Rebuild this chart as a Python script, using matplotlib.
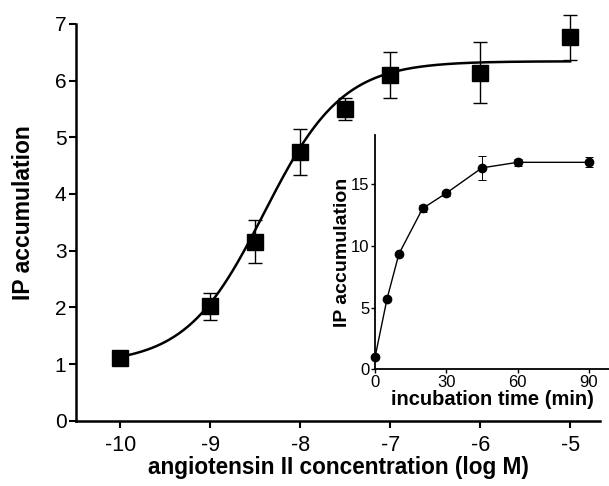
import numpy as np
import matplotlib
matplotlib.use("Agg")
import matplotlib.pyplot as plt

plt.rcParams['font.family'] = ['Liberation Sans', 'DejaVu Sans']
plt.rcParams['axes.unicode_minus'] = False

# main panel: concentration response
log_conc = [-10, -9, -8.5, -8, -7.5, -7, -6, -5]
ip_mean = [1.10, 2.02, 3.16, 4.74, 5.50, 6.10, 6.14, 6.76]
ip_err = [0.05, 0.24, 0.38, 0.41, 0.20, 0.41, 0.54, 0.39]

# sigmoid fit parameters
fit_bottom = 1.0
fit_top = 6.34
fit_logec50 = -8.4
fit_hill = 1.0

# inset: time course
time_min = [0, 5, 10, 20, 30, 45, 60, 90]
ip_time = [1.0, 5.7, 9.35, 13.05, 14.3, 16.35, 16.8, 16.8]
ip_time_err = [0.1, 0.1, 0.1, 0.3, 0.2, 0.95, 0.3, 0.4]

fig = plt.figure(figsize=(6.09, 4.86), dpi=100)
ax = fig.add_axes([0.125, 0.134, 0.86, 0.817])

x_fit = np.linspace(-10, -5, 200)
y_fit = fit_bottom + (fit_top - fit_bottom) / (1 + 10 ** ((fit_logec50 - x_fit) * fit_hill))
ax.plot(x_fit, y_fit, color='k', lw=1.8)
ax.errorbar(log_conc, ip_mean, yerr=ip_err, fmt='s', color='k', ms=11,
            ecolor='k', elinewidth=1.0, capsize=5, capthick=1.0, clip_on=False)

ax.set_xlim(-10.49, -4.67)
ax.set_ylim(0, 7)
ax.set_xticks([-10, -9, -8, -7, -6, -5])
ax.set_yticks(range(0, 8))
for side in ['top', 'right']:
    ax.spines[side].set_visible(False)
for side in ['left', 'bottom']:
    ax.spines[side].set_linewidth(1.8)
ax.tick_params(width=1.5, length=5, labelsize=15.5, pad=5)
ax.tick_params(axis='y', labelsize=15, pad=2)
ax.set_xlabel("angiotensin II concentration (log M)", fontsize=16.3, fontweight='bold')
ax.xaxis.set_label_coords(0.5, -0.088)
ax.set_ylabel("IP accumulation", fontsize=16.5, fontweight='bold')
ax.yaxis.set_label_coords(-0.078, 0.525)

# inset
ins = fig.add_axes([0.616, 0.2407, 0.384, 0.481])
ins.errorbar(time_min, ip_time, yerr=ip_time_err, fmt='-o', color='k', ms=6,
             lw=1.0, ecolor='k', elinewidth=0.7, capsize=3, capthick=0.7, clip_on=False)
ins.set_xlim(0, 98.5)
ins.set_ylim(0, 19)
ins.set_xticks([0, 30, 60, 90])
ins.set_yticks([0, 5, 10, 15])
for side in ['top', 'right']:
    ins.spines[side].set_visible(False)
for side in ['left', 'bottom']:
    ins.spines[side].set_linewidth(1.3)
ins.tick_params(width=1.0, length=3, labelsize=12, pad=1)
ins.set_xlabel("incubation time (min)", fontsize=14.5, fontweight='bold', labelpad=0)
ins.set_ylabel("IP accumulation", fontsize=14, fontweight='bold', labelpad=0)

fig.savefig("out.png", dpi=100)
